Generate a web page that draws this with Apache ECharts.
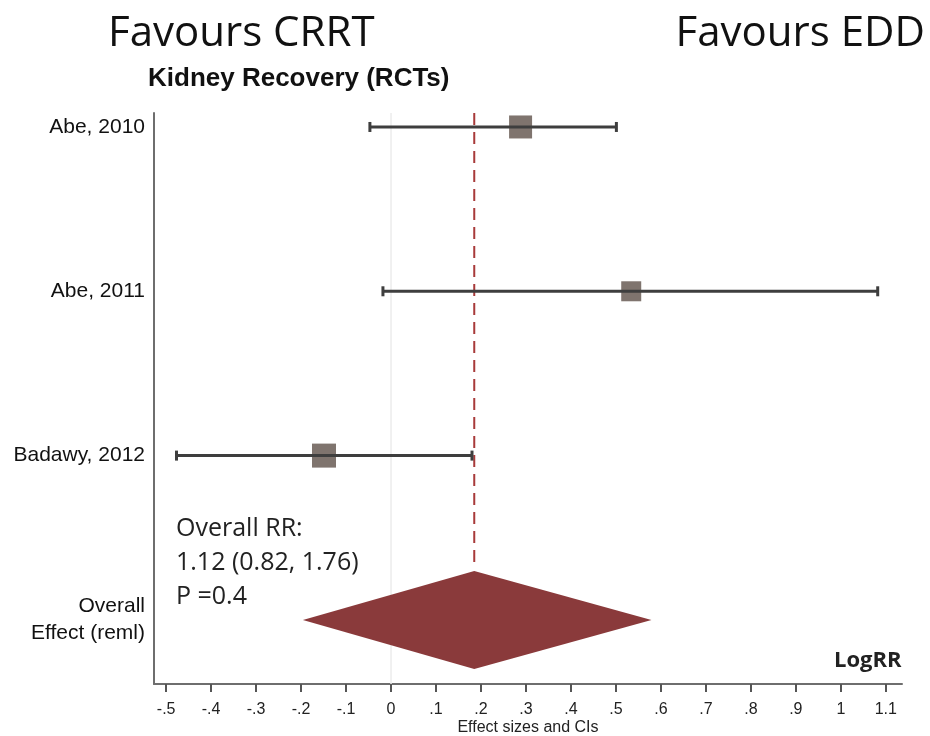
<!DOCTYPE html>
<html>
<head>
<meta charset="utf-8">
<script src="https://cdn.jsdelivr.net/npm/echarts@6/dist/echarts.min.js"></script>
<style>
html,body{margin:0;padding:0;background:#fff;}
#chart{width:930px;height:736px;}
</style>
</head>
<body>
<div id="chart"></div>
<script>
// ---- data ----
const studies = ['Abe, 2010', 'Abe, 2011', 'Badawy, 2012'];
const rowPos = [3, 2, 1];
const effect = [0.288, 0.534, -0.149];
const ciLow = [-0.047, -0.018, -0.477];
const ciHigh = [0.501, 1.082, 0.180];
const weightSize = [23, 20, 24];
const overallName = 'Overall\nEffect (reml)';
const overallRow = 0;
const overallEffect = 0.185;
const overallLow = -0.196;
const overallHigh = 0.579;
const xTicks = [-0.5, -0.4, -0.3, -0.2, -0.1, 0, 0.1, 0.2, 0.3, 0.4, 0.5, 0.6, 0.7, 0.8, 0.9, 1, 1.1];
const rowLabels = {0: overallName, 1: studies[2], 2: studies[1], 3: studies[0]};

const chart = echarts.init(document.getElementById('chart'));
const fmtTick = v => {
  const s = String(Math.round(v * 10) / 10);
  return s.replace(/^(-?)0\./, '$1.');
};

const errData = studies.map((s, i) => [ciLow[i], ciHigh[i], rowPos[i]]);
const sqData = studies.map((s, i) => ({value: [effect[i], rowPos[i]], symbolSize: weightSize[i]}));

const option = {
  animation: false,
  backgroundColor: '#fff',
  grid: {left: 154, right: 28, top: 113, bottom: 52, containLabel: false, outerBoundsMode: 'none'},
  xAxis: {
    type: 'value', min: -0.527, max: 1.136,
    axisLine: {onZero: false, lineStyle: {color: '#6e6e6e', width: 2}},
    axisTick: {customValues: xTicks, length: 8, lineStyle: {color: '#555', width: 2}},
    axisLabel: {customValues: xTicks, formatter: fmtTick, fontFamily: 'Liberation Sans', fontSize: 16, color: '#222', margin: 18},
    splitLine: {show: false},
    name: 'Effect sizes and CIs', nameLocation: 'middle', nameGap: 36, nameMoveOverlap: false,
    nameTextStyle: {fontFamily: 'Liberation Sans', fontSize: 16, color: '#222'}
  },
  yAxis: {
    type: 'value', min: -0.39, max: 3.085,
    axisLine: {show: true, onZero: false, lineStyle: {color: '#6e6e6e', width: 2}},
    axisTick: {show: false},
    splitLine: {show: false},
    axisLabel: {customValues: [0, 1, 2, 3], formatter: v => rowLabels[Math.round(v)] || '',
      fontFamily: 'Liberation Sans', fontSize: 21, color: '#111', margin: 9, lineHeight: 27}
  },
  series: [
    {
      type: 'line', data: [[0, -0.39], [0, 3.085]], symbol: 'none', silent: true,
      lineStyle: {color: '#ececec', width: 1.5}, z: 1
    },
    {
      type: 'line', data: [[overallEffect, 3.085], [overallEffect, 0.33]], symbol: 'none', silent: true,
      lineStyle: {color: '#a83a3a', width: 2, type: [12, 7]}, z: 2
    },
    {
      type: 'scatter', symbol: 'rect', data: sqData,
      itemStyle: {color: '#7f746e', opacity: 1}, z: 3
    },
    {
      type: 'custom', z: 4, data: errData,
      renderItem: (params, api) => {
        const a = api.coord([api.value(0), api.value(2)]);
        const b = api.coord([api.value(1), api.value(2)]);
        const st = {stroke: '#3e3e3e', lineWidth: 3};
        return {type: 'group', children: [
          {type: 'line', shape: {x1: a[0], y1: a[1], x2: b[0], y2: b[1]}, style: st},
          {type: 'line', shape: {x1: a[0], y1: a[1] - 5, x2: a[0], y2: a[1] + 5}, style: st},
          {type: 'line', shape: {x1: b[0], y1: b[1] - 5, x2: b[0], y2: b[1] + 5}, style: st}
        ]};
      }
    },
    {
      type: 'custom', z: 5, data: [[overallLow, overallEffect, overallHigh, overallRow]],
      renderItem: (params, api) => {
        const r = api.value(3), h = 0.298;
        const pts = [
          api.coord([api.value(0), r]),
          api.coord([api.value(1), r + h]),
          api.coord([api.value(2), r]),
          api.coord([api.value(1), r - h])
        ];
        return {type: 'polygon', shape: {points: pts}, style: {fill: '#8a3a3b'}};
      }
    }
  ],
  graphic: [
    {type: 'text', left: 108, top: 13, style: {text: 'Favours CRRT', font: '42px "Open Sans"', fill: '#111'}},
    {type: 'text', right: 5, top: 13, style: {text: 'Favours EDD', font: '42px "Open Sans"', fill: '#111'}},
    {type: 'text', left: 148, top: 66, style: {text: 'Kidney Recovery (RCTs)', font: 'bold 26px "Liberation Sans"', fill: '#111'}},
    {type: 'text', left: 176, top: 512, style: {text: 'Overall RR:\n1.12 (0.82, 1.76)\nP =0.4', font: '25px "Open Sans"', lineHeight: 34, fill: '#222'}},
    {type: 'text', left: 834, top: 650, style: {text: 'LogRR', font: 'bold 22px "Open Sans"', fill: '#222'}}
  ]
};
chart.setOption(option);
</script>
</body>
</html>
